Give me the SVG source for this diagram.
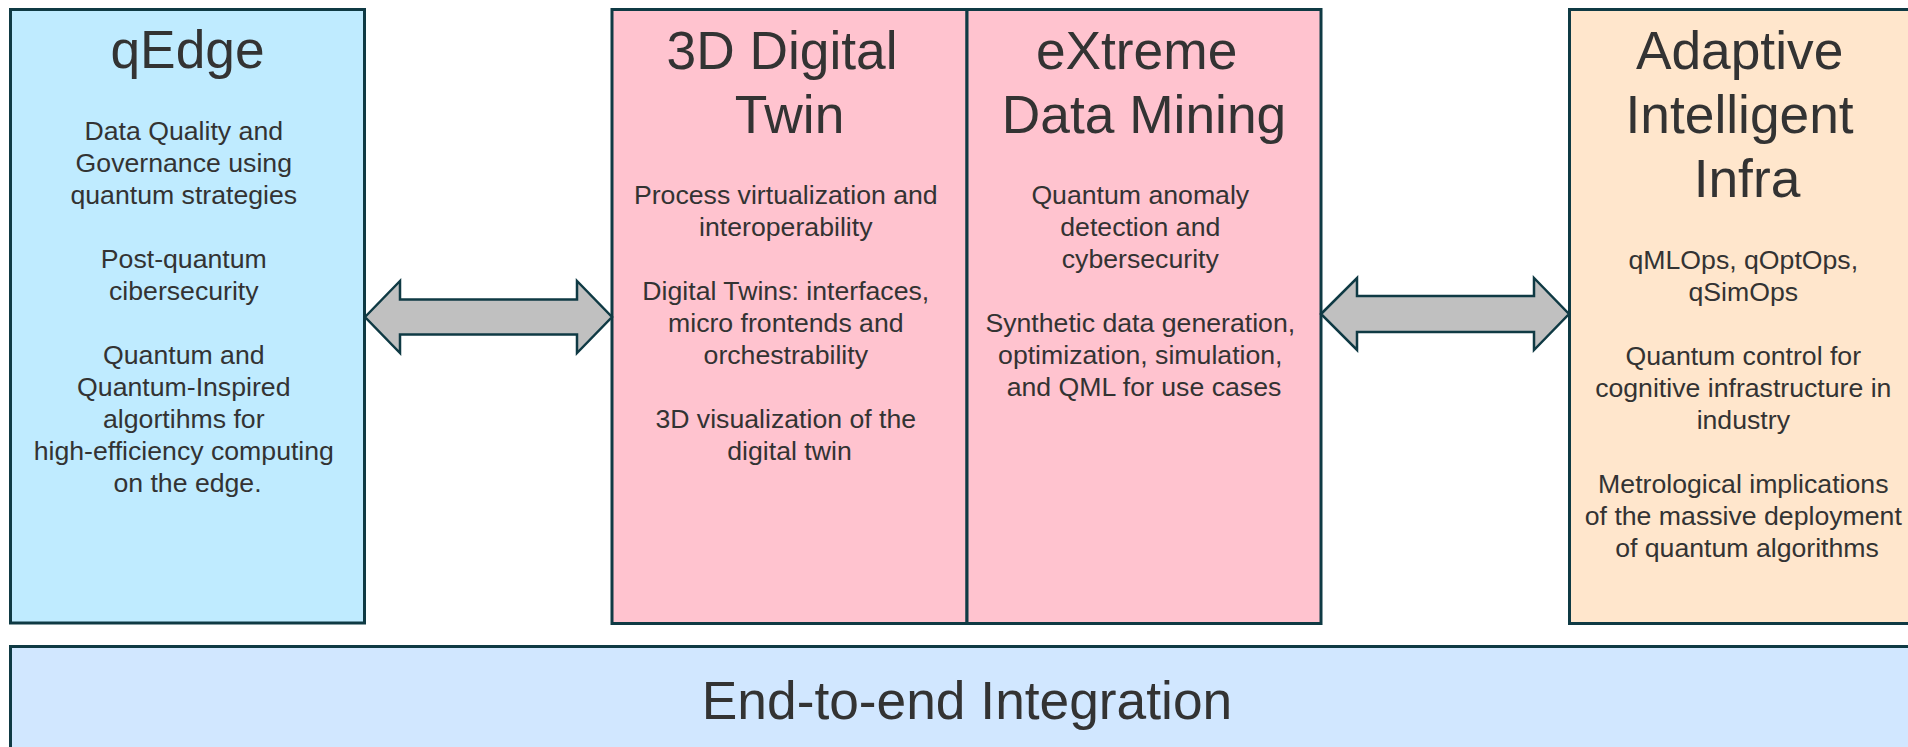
<svg xmlns="http://www.w3.org/2000/svg" width="1908" height="747" viewBox="0 0 1908 747">
<style>
.box{stroke:#0f3a44;stroke-width:3}
.arrow{fill:#c0c0c0;stroke:#0f3a44;stroke-width:2.5;stroke-linejoin:miter}
.t{font-family:"Liberation Sans",Arial,sans-serif;fill:#333333;text-anchor:middle}
.title{font-size:53.3px}
.body{font-size:26.67px}
</style>
<rect width="1908" height="747" fill="#ffffff"/>
<g id="qedge">
<rect class="box" x="10.5" y="9.5" width="354" height="613.5" fill="#bfebff"/>
<text class="t title" x="187.5" y="68">qEdge</text>
<text class="t body">
<tspan x="187.5" y="139.5">Data Quality and</tspan>
<tspan x="187.5" y="171.5">Governance using</tspan>
<tspan x="187.5" y="203.5">quantum strategies</tspan>
<tspan x="187.5" y="267.5">Post-quantum</tspan>
<tspan x="187.5" y="299.5">cibersecurity</tspan>
<tspan x="187.5" y="363.5">Quantum and</tspan>
<tspan x="187.5" y="395.5">Quantum-Inspired</tspan>
<tspan x="187.5" y="427.5">algortihms for</tspan>
<tspan x="187.5" y="459.5">high-efficiency computing</tspan>
<tspan x="187.5" y="491.5">on the edge.</tspan>
</text>
</g>
<g id="digital-twin">
<rect class="box" x="612" y="9.5" width="355" height="614" fill="#ffc3cf"/>
<text class="t title">
<tspan x="789.5" y="69">3D Digital</tspan>
<tspan x="789.5" y="133">Twin</tspan>
</text>
<text class="t body">
<tspan x="789.5" y="204">Process virtualization and</tspan>
<tspan x="789.5" y="236">interoperability</tspan>
<tspan x="789.5" y="300">Digital Twins: interfaces,</tspan>
<tspan x="789.5" y="332">micro frontends and</tspan>
<tspan x="789.5" y="364">orchestrability</tspan>
<tspan x="789.5" y="428">3D visualization of the</tspan>
<tspan x="789.5" y="460">digital twin</tspan>
</text>
</g>
<g id="data-mining">
<rect class="box" x="967" y="9.5" width="354" height="614" fill="#ffc3cf"/>
<text class="t title">
<tspan x="1144" y="69">eXtreme</tspan>
<tspan x="1144" y="133">Data Mining</tspan>
</text>
<text class="t body">
<tspan x="1144" y="204">Quantum anomaly</tspan>
<tspan x="1144" y="236">detection and</tspan>
<tspan x="1144" y="268">cybersecurity</tspan>
<tspan x="1144" y="332">Synthetic data generation,</tspan>
<tspan x="1144" y="364">optimization, simulation,</tspan>
<tspan x="1144" y="396">and QML for use cases</tspan>
</text>
</g>
<g id="adaptive-infra">
<rect class="box" x="1569.5" y="9.5" width="355" height="614" fill="#ffe6cc"/>
<text class="t title">
<tspan x="1747" y="69">Adaptive</tspan>
<tspan x="1747" y="133">Intelligent</tspan>
<tspan x="1747" y="197">Infra</tspan>
</text>
<text class="t body">
<tspan x="1747" y="268.5">qMLOps, qOptOps,</tspan>
<tspan x="1747" y="300.5">qSimOps</tspan>
<tspan x="1747" y="364.5">Quantum control for</tspan>
<tspan x="1747" y="396.5">cognitive infrastructure in</tspan>
<tspan x="1747" y="428.5">industry</tspan>
<tspan x="1747" y="492.5">Metrological implications</tspan>
<tspan x="1747" y="524.5">of the massive deployment</tspan>
<tspan x="1747" y="556.5">of quantum algorithms</tspan>
</text>
</g>
<g id="integration">
<rect class="box" x="10.5" y="646.5" width="1914" height="120" fill="#d1e7ff"/>
<text class="t title" x="967" y="719">End-to-end Integration</text>
</g>
<g id="connectors">
<polygon class="arrow" points="365,317 400,281 400,299.5 577,299.5 577,281 612,317 577,353 577,334.5 400,334.5 400,353"/>
<polygon class="arrow" points="1321,314 1357,278 1357,296 1534,296 1534,278 1569,314 1534,350 1534,332 1357,332 1357,350"/>
</g>
</svg>
